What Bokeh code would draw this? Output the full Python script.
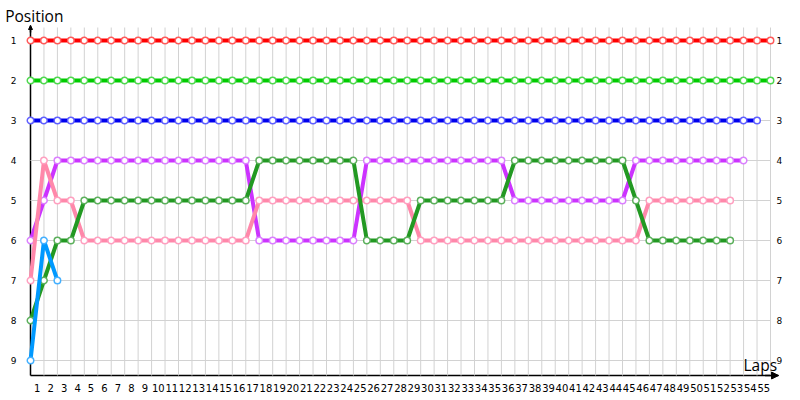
from bokeh.plotting import figure
from bokeh.models import LinearAxis, FixedTicker, Range1d, Label, Arrow, NormalHead
from bokeh.embed import file_html
from bokeh.resources import INLINE

# ---------------- data ----------------
laps = [0, 1, 2, 3, 4, 5, 6, 7, 8, 9, 10, 11, 12, 13, 14, 15, 16, 17, 18, 19, 20,
        21, 22, 23, 24, 25, 26, 27, 28, 29, 30, 31, 32, 33, 34, 35, 36, 37, 38, 39,
        40, 41, 42, 43, 44, 45, 46, 47, 48, 49, 50, 51, 52, 53, 54, 55]
lap_labels = laps[1:]
positions = [1, 2, 3, 4, 5, 6, 7, 8, 9]

red_pos = [1, 1, 1, 1, 1, 1, 1, 1, 1, 1, 1, 1, 1, 1, 1, 1, 1, 1, 1, 1, 1, 1, 1, 1, 1, 1, 1, 1,
           1, 1, 1, 1, 1, 1, 1, 1, 1, 1, 1, 1, 1, 1, 1, 1, 1, 1, 1, 1, 1, 1, 1, 1, 1, 1, 1, 1]
green_pos = [2, 2, 2, 2, 2, 2, 2, 2, 2, 2, 2, 2, 2, 2, 2, 2, 2, 2, 2, 2, 2, 2, 2, 2, 2, 2, 2, 2,
             2, 2, 2, 2, 2, 2, 2, 2, 2, 2, 2, 2, 2, 2, 2, 2, 2, 2, 2, 2, 2, 2, 2, 2, 2, 2, 2, 2]
blue_pos = [3, 3, 3, 3, 3, 3, 3, 3, 3, 3, 3, 3, 3, 3, 3, 3, 3, 3, 3, 3, 3, 3, 3, 3, 3, 3, 3, 3,
            3, 3, 3, 3, 3, 3, 3, 3, 3, 3, 3, 3, 3, 3, 3, 3, 3, 3, 3, 3, 3, 3, 3, 3, 3, 3, 3]
purple_pos = [6, 5, 4, 4, 4, 4, 4, 4, 4, 4, 4, 4, 4, 4, 4, 4, 4, 6, 6, 6, 6, 6, 6, 6, 6, 4, 4,
              4, 4, 4, 4, 4, 4, 4, 4, 4, 5, 5, 5, 5, 5, 5, 5, 5, 5, 4, 4, 4, 4, 4, 4, 4, 4, 4]
pink_pos = [7, 4, 5, 5, 6, 6, 6, 6, 6, 6, 6, 6, 6, 6, 6, 6, 6, 5, 5, 5, 5, 5, 5, 5, 5, 5, 5,
            5, 5, 6, 6, 6, 6, 6, 6, 6, 6, 6, 6, 6, 6, 6, 6, 6, 6, 6, 5, 5, 5, 5, 5, 5, 5]
darkgreen_pos = [8, 7, 6, 6, 5, 5, 5, 5, 5, 5, 5, 5, 5, 5, 5, 5, 5, 4, 4, 4, 4, 4, 4, 4, 4, 6, 6,
                 6, 6, 5, 5, 5, 5, 5, 5, 5, 4, 4, 4, 4, 4, 4, 4, 4, 4, 5, 6, 6, 6, 6, 6, 6, 6]
lightblue_pos = [9, 6, 7]

series = [
    (red_pos, "#ff0000", "#ff5a5a"),
    (green_pos, "#00cc00", "#4fd84f"),
    (blue_pos, "#0000ee", "#6060ff"),
    (purple_pos, "#cc33ff", "#db80ff"),
    (pink_pos, "#ff88aa", "#ffa0c0"),
    (darkgreen_pos, "#229922", "#5cb05c"),
    (lightblue_pos, "#0099ff", "#44b0ff"),
]

# ---------------- figure ----------------
p = figure(width=800, height=400,
           x_range=Range1d(-2.2297, 57.23), y_range=Range1d(10.0, 0.0),
           x_axis_type=None, y_axis_type=None,
           output_backend="svg", toolbar_location=None,
           min_border=0, min_border_left=0, min_border_right=0,
           min_border_top=0, min_border_bottom=0)
p.outline_line_color = None
p.background_fill_color = "white"

grid_color = "#d2d2d2"
p.segment(x0=lap_labels, y0=[0.675] * len(lap_labels), x1=lap_labels,
          y1=[9.375] * len(lap_labels), line_color=grid_color, line_width=1)
p.segment(x0=[0] * len(positions), y0=positions, x1=[55] * len(positions),
          y1=positions, line_color=grid_color, line_width=1)

# axes
xaxis = LinearAxis(fixed_location=9.375, bounds=(0, 55.6),
                   ticker=FixedTicker(ticks=[n - 0.5 for n in lap_labels]),
                   major_label_overrides={n - 0.5: str(n) for n in lap_labels},
                   major_tick_in=0, major_tick_out=0, minor_tick_in=0, minor_tick_out=0,
                   axis_line_color="black", axis_line_width=1.5,
                   major_label_standoff=8,
                   major_label_text_font="DejaVu Sans",
                   major_label_text_font_size="10px",
                   major_label_text_color="black")
xaxis.level = "underlay"
p.add_layout(xaxis, "below")

yaxis = LinearAxis(fixed_location=0, bounds=(0.625, 9.375),
                   ticker=FixedTicker(ticks=positions),
                   major_tick_in=0, major_tick_out=0, minor_tick_in=0, minor_tick_out=0,
                   axis_line_color="black", axis_line_width=1.5,
                   major_label_standoff=14,
                   major_label_text_font="DejaVu Sans",
                   major_label_text_font_size="9px",
                   major_label_text_color="black")
yaxis.level = "underlay"
p.add_layout(yaxis, "left")

raxis = LinearAxis(fixed_location=55,
                   ticker=FixedTicker(ticks=positions),
                   major_tick_in=0, major_tick_out=0, minor_tick_in=0, minor_tick_out=0,
                   axis_line_color=None,
                   major_label_standoff=6,
                   major_label_text_font="DejaVu Sans",
                   major_label_text_font_size="9px",
                   major_label_text_color="black")
raxis.level = "underlay"
p.add_layout(raxis, "right")

# arrowheads on axes
p.add_layout(Arrow(end=NormalHead(size=7, fill_color="black", line_color="black"),
                   x_start=54.6, y_start=9.375, x_end=55.6, y_end=9.375,
                   line_color="black", line_width=1.5))
p.add_layout(Arrow(end=NormalHead(size=4, fill_color="black", line_color="black"),
                   x_start=0, y_start=0.8, x_end=0, y_end=0.625,
                   line_color="black", line_width=1.5))

# series
for ys, col, outline in series:
    xs = laps[:len(ys)]
    p.line(xs, ys, line_color=col, line_width=4, line_join="round")
    p.scatter(xs, ys, size=6.5, fill_color="white", line_color=outline, line_width=1.5)

# titles
p.add_layout(Label(x=-1.88, y=0.39, text="Position", text_font="Open Sans",
                   text_font_size="15.5px", text_color="black",
                   text_align="left", text_baseline="alphabetic"))
p.add_layout(Label(x=52.99, y=9.11, text="Laps", text_font="Open Sans",
                   text_font_size="15.5px", text_color="black",
                   text_align="left", text_baseline="alphabetic"))

open("out.html", "w").write(file_html(p, INLINE))
